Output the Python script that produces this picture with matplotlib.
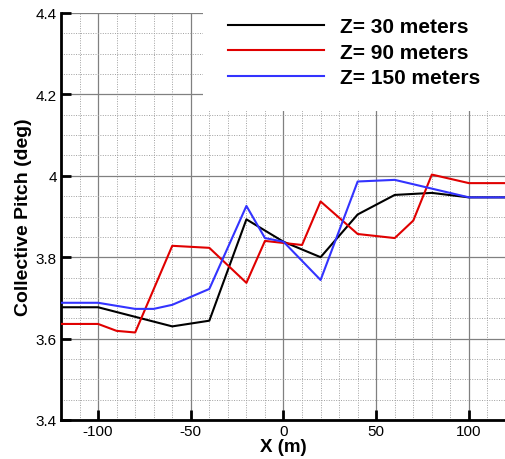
import matplotlib
matplotlib.use("Agg")
import matplotlib.pyplot as plt
from matplotlib.ticker import MultipleLocator, FuncFormatter
from matplotlib.patches import Rectangle

plt.rcParams['font.family'] = ['Liberation Sans', 'DejaVu Sans']

# Z = 30 m
x30 = [-120, -100, -60, -40, -20, 0, 20, 40, 60, 80, 100, 120]
p30 = [3.677, 3.677, 3.630, 3.644, 3.893, 3.838, 3.800, 3.905, 3.953, 3.958, 3.947, 3.947]

# Z = 90 m
x90 = [-120, -100, -90, -80, -60, -40, -20, -10, 10, 20, 40, 60, 70, 80, 100, 120]
p90 = [3.636, 3.636, 3.619, 3.615, 3.828, 3.823, 3.737, 3.840, 3.830, 3.937,
       3.857, 3.847, 3.890, 4.003, 3.982, 3.982]

# Z = 150 m
x150 = [-120, -100, -80, -70, -60, -40, -20, -10, 0, 20, 40, 60, 100, 120]
p150 = [3.688, 3.688, 3.673, 3.673, 3.683, 3.722, 3.926, 3.847, 3.838, 3.744,
        3.986, 3.990, 3.947, 3.947]

labels = ["Z= 30 meters", "Z= 90 meters", "Z= 150 meters"]
colors = ["black", "#e00000", "#3333ff"]

fig = plt.figure(figsize=(5.06, 4.6), dpi=100)
ax = fig.add_axes([61 / 506, 1 - 421 / 460, 445 / 506, 407 / 460])

ax.set_axisbelow(True)
for xs, ys, lab, c in zip([x30, x90, x150], [p30, p90, p150], labels, colors):
    ax.plot(xs, ys, color=c, lw=1.5, label=lab, zorder=3)

ax.set_xlim(-120, 120)
ax.set_ylim(3.4, 4.4)
ax.xaxis.set_major_locator(MultipleLocator(50))
ax.xaxis.set_minor_locator(MultipleLocator(10))
ax.yaxis.set_major_locator(MultipleLocator(0.2))
ax.yaxis.set_minor_locator(MultipleLocator(0.05))
ax.yaxis.set_major_formatter(FuncFormatter(lambda v, p: f"{v:g}"))
ax.xaxis.set_major_formatter(FuncFormatter(lambda v, p: f"{v:g}"))

ax.grid(which='major', color='#808080', lw=0.9, ls='-')
ax.grid(which='minor', color='#a0a0a0', lw=0.7, ls=(0, (1, 1.5)))

for s in ['top', 'right']:
    ax.spines[s].set_visible(False)
for s in ['left', 'bottom']:
    ax.spines[s].set_linewidth(2)
ax.tick_params(which='major', direction='in', length=7, width=2, labelsize=11, pad=3)
ax.tick_params(which='minor', length=0)

ax.set_xlabel("X (m)", fontsize=13.5, fontweight='bold', labelpad=0)
ax.set_ylabel("Collective Pitch (deg)", fontsize=14, fontweight='bold', labelpad=3)

# white box behind legend, hiding the grid
ax.add_patch(Rectangle((0.319, 0.759), 0.681, 0.3, transform=ax.transAxes,
                       facecolor='white', edgecolor='none', zorder=2, clip_on=False))

leg = ax.legend(loc='upper left', bbox_to_anchor=(0.375, 0.99), frameon=False,
                prop={'weight': 'bold', 'size': 15},
                handlelength=4.6, handletextpad=0.8, borderpad=0,
                borderaxespad=0, labelspacing=0.31)
leg.set_zorder(5)

fig.savefig("out.png", dpi=100)
